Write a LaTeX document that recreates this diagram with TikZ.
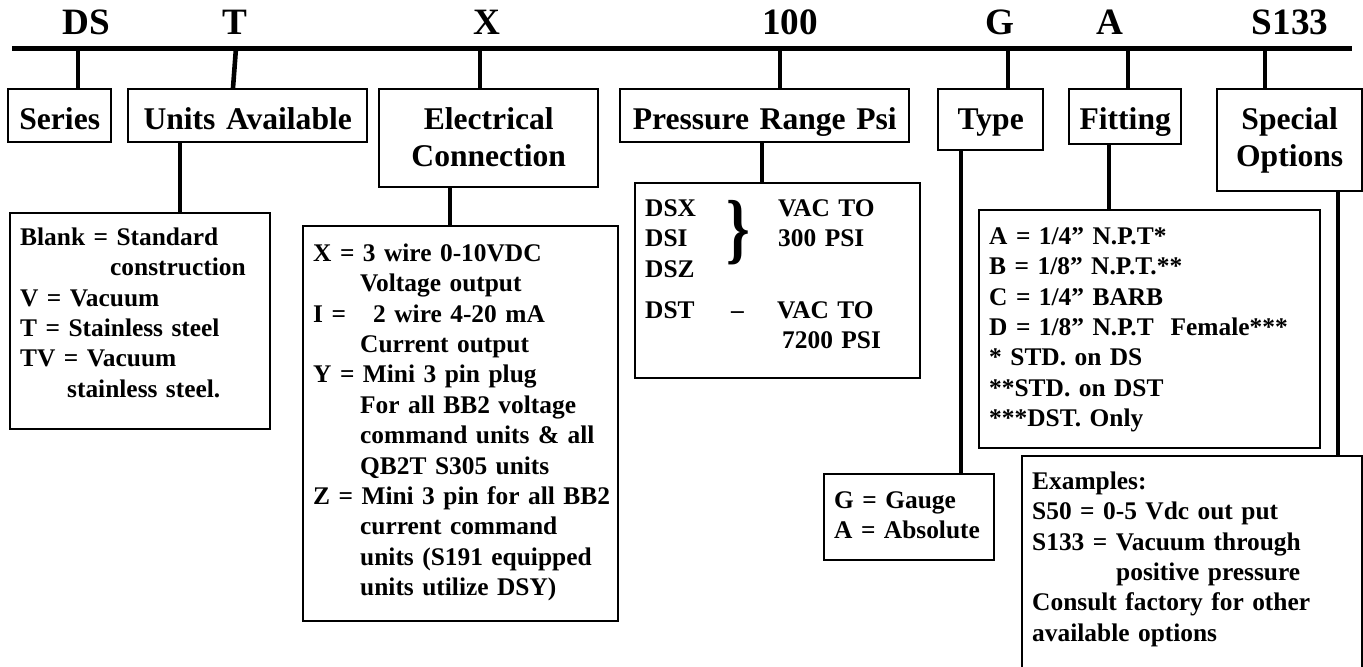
\documentclass[tikz,border=0pt]{standalone}
\usepackage{fontspec}
\setmainfont{Liberation Serif}
\usepackage{graphicx}
\newcommand{\codefont}{\fontsize{18.6pt}{20pt}\selectfont\bfseries}
\newcommand{\hdrfont}{\fontsize{15.8pt}{18.5pt}\selectfont\bfseries}
\newcommand{\infofont}{\fontsize{12.7pt}{15.2pt}\selectfont\bfseries}
\tikzstyle{hdrbox} = [draw, line width=1.2pt, anchor=north west, inner sep=0pt, align=center, font=\hdrfont, text height=20pt]
\tikzstyle{infobox} = [draw, line width=1.2pt, anchor=north west, inner xsep=5pt, inner ysep=0pt, align=left, font=\infofont, text height=17pt]
\tikzstyle{codelbl} = [anchor=base, inner sep=0pt, font=\codefont]
\tikzstyle{codebar} = [line width=2.5pt]
\tikzstyle{stem} = [line width=2.3pt]

\begin{document}
\begin{tikzpicture}[x=0.5pt, y=-0.5pt]
    \useasboundingbox (0,0) rectangle (1363,666);
    \clip (0,0) rectangle (1363,666);

    % Model code
    \node[codelbl] (cDS) at (86,34) {DS};
    \node[codelbl] (cT) at (235,34) {T};
    \node[codelbl] (cX) at (487,34) {X};
    \node[codelbl] (c100) at (790,34) {100};
    \node[codelbl] (cG) at (1000,34) {G};
    \node[codelbl] (cA) at (1110,34) {A};
    \node[codelbl] (cS) at (1290,34) {S133};

    % Code bar and taps
    \coordinate (barL) at (12,48);
    \coordinate (barR) at (1352,48);
    \draw[codebar] (barL) -- (barR);
    \coordinate (tapDS) at (78,48);
    \coordinate (tapT) at (236,48);
    \coordinate (tapTb) at (233,48);
    \coordinate (tapX) at (480,48);
    \coordinate (tap100) at (780,48);
    \coordinate (tapG) at (1008,48);
    \coordinate (tapA) at (1128,48);
    \coordinate (tapS) at (1265,48);

    % Field headings
    \node[hdrbox, text width=51.5pt, text depth=6.5pt] (series) at (7,88) {Series};
    \node[hdrbox, text width=119.5pt, text depth=6.5pt] (units) at (127,88) {Units Available};
    \node[hdrbox, text width=109.5pt, text depth=29pt] (elec) at (378,88) {Electrical\\Connection};
    \node[hdrbox, text width=144.5pt, text depth=6.5pt] (press) at (619,88) {Pressure Range Psi};
    \node[hdrbox, text width=52.5pt, text depth=10.5pt] (type) at (937,88) {Type};
    \node[hdrbox, text width=56pt, text depth=7.5pt] (fitting) at (1068,88) {Fitting};
    \node[hdrbox, text width=72.5pt, text depth=31pt] (special) at (1216,88) {Special\\Options};

    \draw[stem] (tapDS) -- (tapDS |- series.north);
    \draw[stem] (tapT) -- (tapTb |- units.north);
    \draw[stem] (tapX) -- (tapX |- elec.north);
    \draw[stem] (tap100) -- (tap100 |- press.north);
    \draw[stem] (tapG) -- (tapG |- type.north);
    \draw[stem] (tapA) -- (tapA |- fitting.north);
    \draw[stem] (tapS) -- (tapS |- special.north);

    % Option boxes
    \node[infobox, text width=120pt, text height=16pt, text depth=92pt] (blank) at (9,212) {\begin{tabular}[t]{@{}l@{}}
        Blank = Standard\\
        \hspace*{45pt}construction\\
        V = Vacuum\\
        T = Stainless steel\\
        TV = Vacuum\\
        \hspace*{23.5pt}stainless steel.
    \end{tabular}};
    \node[infobox, text width=147.5pt, text height=17.5pt, text depth=180pt] (wiring) at (302,225) {\begin{tabular}[t]{@{}l@{}}
        X = 3 wire 0-10VDC\\
        \hspace*{23.5pt}Voltage output\\
        \makebox[30pt][l]{I =}2 wire 4-20 mA\\
        \hspace*{23.5pt}Current output\\
        Y = Mini 3 pin plug\\
        \hspace*{23.5pt}For all BB2 voltage\\
        \hspace*{23.5pt}command units \& all\\
        \hspace*{23.5pt}QB2T S305 units\\
        Z = Mini 3 pin for all BB2\\
        \hspace*{23.5pt}current command\\
        \hspace*{23.5pt}units (S191 equipped\\
        \hspace*{23.5pt}units utilize DSY)
    \end{tabular}};
    \node[infobox, text width=132.5pt, text height=16.5pt, text depth=81pt] (range) at (634,182) {\begin{tabular}[t]{@{}l@{}}
        \makebox[66.5pt][l]{DSX}VAC TO\\
        \makebox[66.5pt][l]{DSI}300 PSI\\
        DSZ\\[5.5pt]
        \makebox[43pt][l]{DST}\makebox[23pt][l]{--}VAC TO\\
        \hspace*{68.5pt}7200 PSI
    \end{tabular}};
    \node[inner sep=0pt, font=\fontsize{30pt}{30pt}\selectfont\bfseries] (rbrace) at (738,233) {\scalebox{1}[1.3]{\}}};
    \node[infobox, text width=75pt, text depth=26pt] (gauge) at (823,473) {\begin{tabular}[t]{@{}l@{}}
        G = Gauge\\
        A = Absolute
    \end{tabular}};
    \node[infobox, text width=160.5pt, text depth=102pt] (port) at (978,209) {\begin{tabular}[t]{@{}l@{}}
        A = 1/4'' N.P.T*\\
        B = 1/8'' N.P.T.**\\
        C = 1/4'' BARB\\
        D = 1/8'' N.P.T\ \ Female***\\
        {*} STD. on DS\\
        {*}*STD. on DST\\
        {*}**DST. Only
    \end{tabular}};
    \node[infobox, text width=160pt, text height=16.5pt, text depth=106pt] (examples) at (1021,455) {\begin{tabular}[t]{@{}l@{}}
        Examples:\\
        S50 = 0-5 Vdc out put\\
        S133 = Vacuum through\\
        \hspace*{42pt}positive pressure\\
        Consult factory for other\\
        available options
    \end{tabular}};

    % Heading to option stems
    \coordinate (xBlank) at (180,0);
    \coordinate (xWiring) at (450,0);
    \coordinate (xRange) at (762,0);
    \coordinate (xGauge) at (961,0);
    \coordinate (xPort) at (1109,0);
    \coordinate (xEx) at (1338,0);
    \draw[stem] (units.south -| xBlank) -- (blank.north -| xBlank);
    \draw[stem] (elec.south -| xWiring) -- (wiring.north -| xWiring);
    \draw[stem] (press.south -| xRange) -- (range.north -| xRange);
    \draw[stem] (type.south -| xGauge) -- (gauge.north -| xGauge);
    \draw[stem] (fitting.south -| xPort) -- (port.north -| xPort);
    \draw[stem] (special.south -| xEx) -- (examples.north -| xEx);
\end{tikzpicture}
\end{document}
